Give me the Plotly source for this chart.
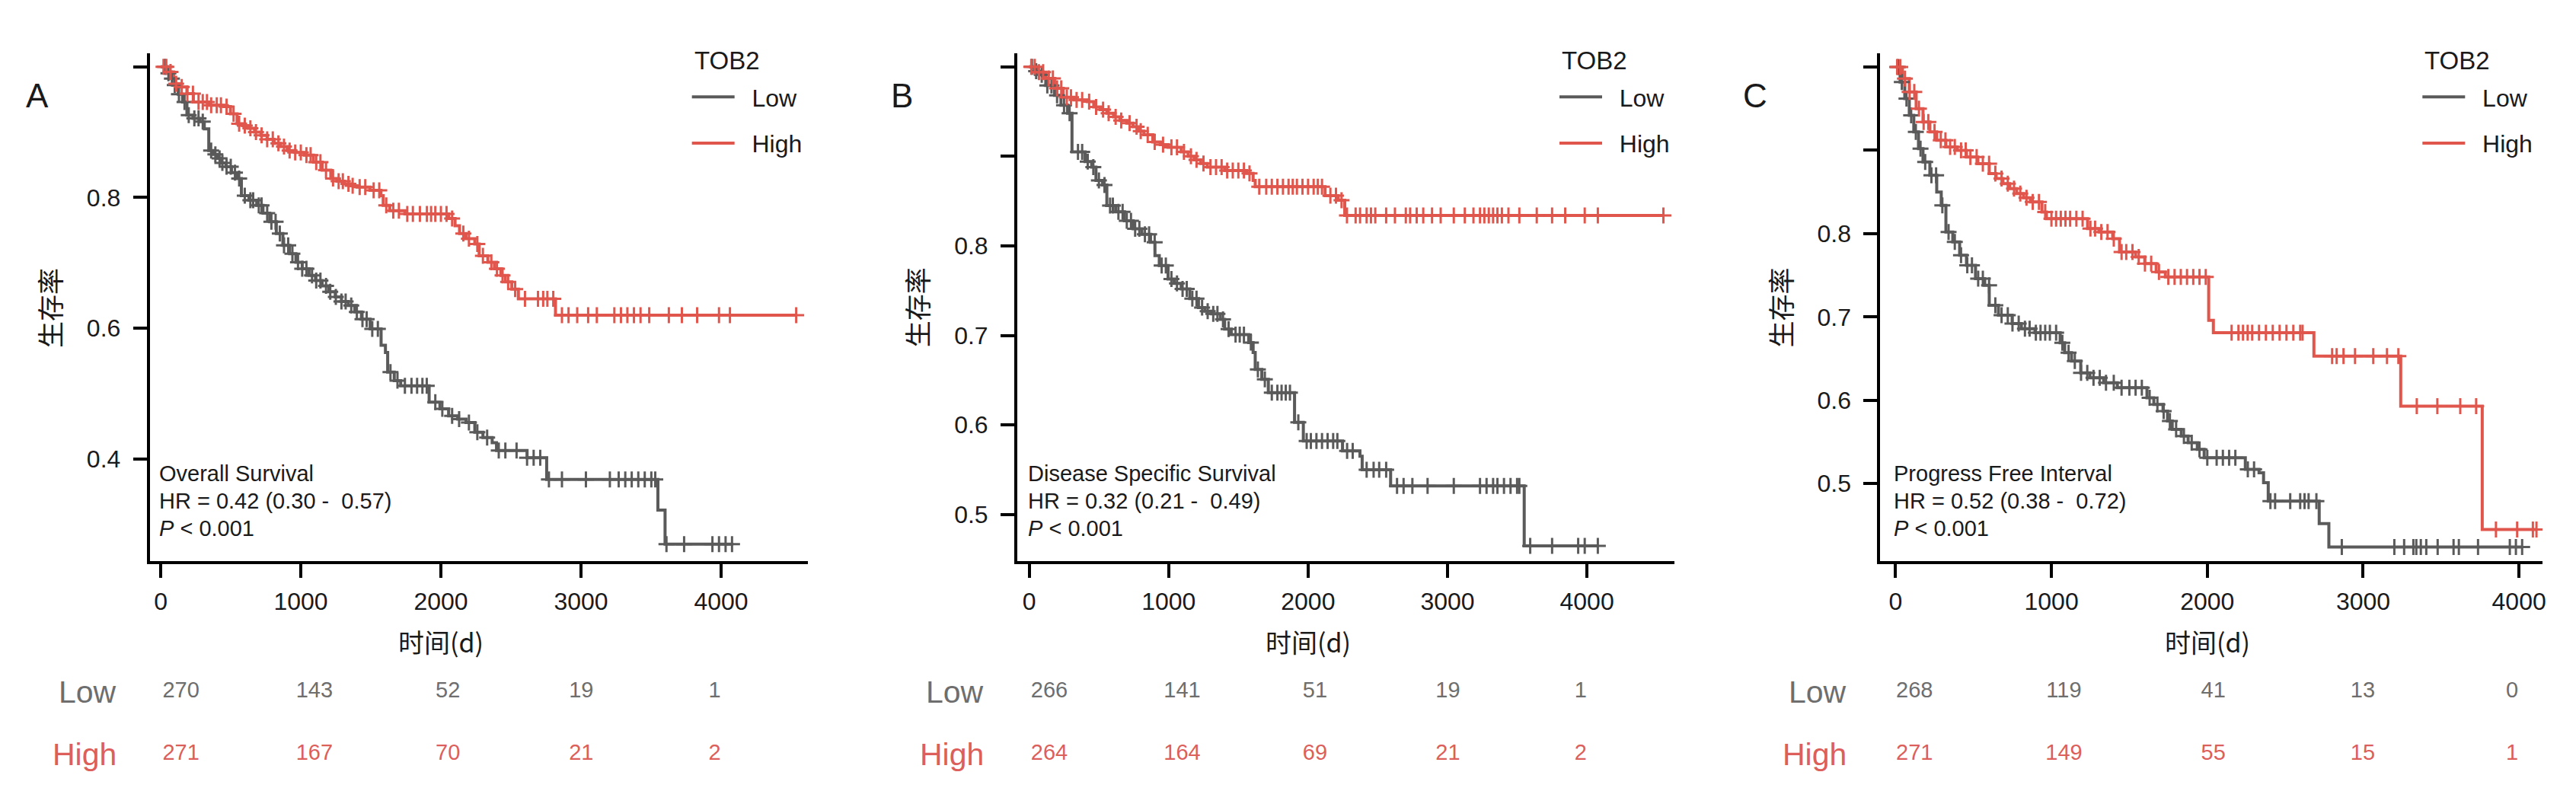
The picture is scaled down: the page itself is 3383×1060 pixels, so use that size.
import bisect
import plotly.graph_objects as go

W, H = 3383, 1060
FONT = "Liberation Sans, Arial, Noto Sans CJK SC, sans-serif"
CJK = "Noto Sans CJK SC, Liberation Sans, sans-serif"

line_colors = {"Low": "#5A5A5A", "High": "#E0564C"}
table_colors = {"Low": "#6E6E6E", "High": "#DC5F5B"}

time_ticks = [0, 1000, 2000, 3000, 4000]

# ---------------- A: Overall Survival ----------------
os_low_t = [0, 40, 70, 93, 125, 156, 187, 230, 280, 311, 343, 375, 405, 435, 467, 505, 545, 576, 630, 685,
            730, 778, 825, 872, 920, 965, 1010, 1059, 1105, 1152, 1200, 1246, 1290, 1339, 1385, 1433, 1495,
            1573, 1604, 1620, 1667, 1713, 1916, 1993, 2055, 2120, 2179, 2242, 2300, 2366, 2397, 2615, 2755,
            3549, 3600]
os_low_s = [1.0, 0.990, 0.982, 0.972, 0.958, 0.946, 0.926, 0.921, 0.916, 0.905, 0.872, 0.866, 0.860, 0.853,
            0.847, 0.838, 0.829, 0.803, 0.796, 0.788, 0.776, 0.763, 0.745, 0.727, 0.714, 0.701, 0.691, 0.681,
            0.673, 0.665, 0.656, 0.648, 0.641, 0.635, 0.625, 0.614, 0.599, 0.574, 0.563, 0.533, 0.520, 0.512,
            0.487, 0.477, 0.466, 0.461, 0.456, 0.441, 0.433, 0.425, 0.413, 0.402, 0.369, 0.322, 0.270]
os_low_cens = [30, 55, 80, 100, 130, 170, 200, 240, 270, 300, 360, 390, 420, 440, 470, 500, 530, 560, 600, 640,
               660, 700, 720, 760, 790, 820, 850, 880, 910, 940, 980, 1010, 1040, 1080, 1110, 1140, 1180, 1210,
               1250, 1290, 1320, 1360, 1400, 1440, 1470, 1510, 1550, 1640, 1690, 1743, 1790, 1830, 1868, 1899,
               1960, 2010, 2080, 2130, 2200, 2260, 2330, 2413, 2460, 2540, 2615, 2662, 2709, 2771, 2864, 3035,
               3206, 3269, 3316, 3362, 3409, 3455, 3502, 3530, 3610, 3736, 3938, 3985, 4032, 4078]

os_high_t = [0, 47, 93, 140, 187, 233, 343, 451, 498, 545, 585, 623, 670, 716, 760, 809, 855, 903, 960, 1027,
             1090, 1152, 1214, 1260, 1308, 1355, 1401, 1494, 1572, 1588, 1635, 1743, 2055, 2101, 2133, 2179,
             2242, 2273, 2335, 2382, 2428, 2460, 2506, 2553, 2818]
os_high_s = [1.0, 0.992, 0.974, 0.969, 0.959, 0.946, 0.941, 0.939, 0.928, 0.913, 0.910, 0.906, 0.900, 0.895,
             0.889, 0.883, 0.878, 0.872, 0.869, 0.865, 0.854, 0.842, 0.829, 0.825, 0.821, 0.818, 0.816, 0.811,
             0.803, 0.788, 0.780, 0.775, 0.768, 0.757, 0.745, 0.737, 0.729, 0.711, 0.701, 0.691, 0.681, 0.671,
             0.660, 0.645, 0.620]
os_high_cens = [20, 40, 70, 110, 150, 190, 230, 270, 300, 330, 360, 400, 430, 470, 520, 560, 600, 640, 680, 720,
                760, 800, 840, 880, 920, 960, 1000, 1040, 1070, 1110, 1140, 1180, 1230, 1270, 1300, 1340, 1370,
                1420, 1460, 1520, 1560, 1610, 1660, 1700, 1760, 1800, 1850, 1900, 1930, 1960, 2000, 2040, 2080,
                2160, 2200, 2260, 2300, 2360, 2400, 2440, 2480, 2530, 2600, 2693, 2730, 2760, 2802, 2864, 2911,
                2973, 3051, 3113, 3238, 3285, 3331, 3378, 3425, 3487, 3627, 3720, 3829, 3985, 4063, 4536]

# ---------------- B: Disease Specific Survival ----------------
dss_low_t = [0, 40, 72, 119, 182, 228, 275, 307, 401, 448, 479, 526, 557, 620, 683, 745, 808, 870, 902, 933,
             996, 1040, 1090, 1152, 1214, 1260, 1308, 1371, 1402, 1449, 1574, 1606, 1621, 1668, 1715, 1903,
             1966, 2247, 2372, 2388, 2592, 3550]
dss_low_s = [1.0, 0.995, 0.991, 0.979, 0.968, 0.957, 0.948, 0.905, 0.894, 0.888, 0.873, 0.868, 0.845, 0.838,
             0.828, 0.819, 0.813, 0.804, 0.789, 0.778, 0.763, 0.758, 0.752, 0.741, 0.731, 0.727, 0.724, 0.718,
             0.707, 0.701, 0.692, 0.681, 0.662, 0.651, 0.636, 0.603, 0.582, 0.571, 0.565, 0.550, 0.532, 0.465]
dss_low_cens = [20, 50, 90, 130, 160, 200, 250, 290, 350, 380, 420, 460, 500, 540, 580, 600, 640, 670, 700, 730,
                760, 790, 830, 860, 900, 950, 980, 1020, 1060, 1100, 1130, 1170, 1200, 1240, 1280, 1320, 1350,
                1390, 1430, 1480, 1510, 1540, 1590, 1640, 1690, 1740, 1780, 1810, 1840, 1870, 1930, 1990, 2020,
                2060, 2100, 2140, 2180, 2210, 2280, 2320, 2420, 2470, 2510, 2560, 2638, 2685, 2748, 2857, 3045,
                3233, 3280, 3327, 3358, 3405, 3452, 3499, 3515, 3593, 3750, 3937, 3984, 4078]

dss_high_t = [0, 56, 119, 182, 244, 322, 416, 463, 510, 557, 605, 651, 700, 745, 785, 823, 886, 940, 996, 1090,
              1140, 1183, 1230, 1277, 1402, 1559, 1606, 1621, 2122, 2216, 2263]
dss_high_s = [1.0, 0.994, 0.987, 0.976, 0.966, 0.963, 0.961, 0.955, 0.952, 0.948, 0.944, 0.940, 0.937, 0.933,
              0.928, 0.924, 0.916, 0.913, 0.910, 0.905, 0.900, 0.896, 0.892, 0.888, 0.884, 0.881, 0.873, 0.866,
              0.856, 0.851, 0.834]
dss_high_cens = [15, 40, 70, 100, 140, 170, 200, 230, 270, 300, 340, 380, 430, 480, 530, 570, 620, 660, 720, 770,
                 800, 850, 900, 960, 1020, 1060, 1110, 1160, 1200, 1250, 1300, 1340, 1380, 1420, 1460, 1500, 1540,
                 1580, 1650, 1700, 1740, 1780, 1820, 1860, 1890, 1920, 1960, 2000, 2040, 2070, 2100, 2160, 2200,
                 2240, 2279, 2341, 2373, 2420, 2451, 2482, 2560, 2623, 2701, 2732, 2779, 2826, 2889, 2951, 3045,
                 3124, 3186, 3233, 3264, 3296, 3327, 3358, 3390, 3437, 3515, 3640, 3750, 3844, 3984, 4078, 4548]

# ---------------- C: Progress Free Interval ----------------
pfi_low_t = [0, 29, 59, 88, 117, 147, 176, 220, 264, 293, 323, 367, 411, 455, 513, 572, 601, 660, 748, 807, 895,
             1056, 1085, 1129, 1188, 1247, 1335, 1423, 1613, 1657, 1716, 1745, 1775, 1833, 1877, 1936, 1980,
             2244, 2332, 2361, 2391, 2718, 2780]
pfi_low_s = [1.0, 0.982, 0.962, 0.942, 0.922, 0.902, 0.886, 0.870, 0.850, 0.834, 0.802, 0.790, 0.774, 0.762,
             0.746, 0.738, 0.714, 0.702, 0.692, 0.686, 0.681, 0.669, 0.657, 0.647, 0.633, 0.627, 0.621, 0.615,
             0.603, 0.595, 0.587, 0.575, 0.565, 0.557, 0.549, 0.541, 0.531, 0.517, 0.513, 0.501, 0.479, 0.452,
             0.424]
pfi_low_cens = [15, 40, 70, 100, 130, 160, 190, 230, 260, 300, 340, 380, 420, 460, 490, 530, 560, 600, 640, 680,
                720, 750, 790, 830, 860, 900, 930, 960, 990, 1030, 1070, 1110, 1150, 1190, 1230, 1270, 1310, 1350,
                1400, 1450, 1500, 1540, 1580, 1630, 1680, 1720, 1760, 1800, 1850, 1900, 1950, 2000, 2060, 2100,
                2140, 2180, 2260, 2300, 2405, 2435, 2532, 2596, 2624, 2650, 2700, 2863, 3200, 3263, 3322, 3341,
                3370, 3405, 3478, 3580, 3614, 3737, 3941, 3980, 4020]

pfi_high_t = [0, 44, 88, 132, 176, 220, 264, 323, 396, 455, 528, 601, 645, 689, 733, 777, 821, 865, 939, 968,
              1232, 1305, 1393, 1437, 1540, 1599, 1672, 1731, 2009, 2039, 2684, 3241, 3764]
pfi_high_s = [1.0, 0.986, 0.970, 0.950, 0.934, 0.922, 0.912, 0.904, 0.900, 0.892, 0.884, 0.872, 0.866, 0.860,
              0.854, 0.848, 0.843, 0.838, 0.826, 0.818, 0.806, 0.802, 0.794, 0.778, 0.772, 0.764, 0.754, 0.748,
              0.696, 0.681, 0.653, 0.593, 0.445]
pfi_high_cens = [10, 30, 60, 90, 120, 150, 180, 210, 250, 290, 320, 350, 380, 420, 450, 480, 520, 560, 600, 640,
                 680, 720, 760, 800, 840, 880, 920, 960, 1000, 1030, 1060, 1090, 1120, 1160, 1200, 1250, 1280,
                 1320, 1360, 1400, 1450, 1480, 1520, 1560, 1600, 1640, 1690, 1750, 1790, 1830, 1870, 1910, 1950,
                 1990, 2156, 2200, 2229, 2259, 2288, 2332, 2376, 2420, 2464, 2508, 2552, 2596, 2611, 2801, 2830,
                 2874, 2948, 3065, 3153, 3226, 3344, 3476, 3623, 3725, 3852, 3988, 4089, 4112]

# ---------------- numbers at risk ----------------
risk_os = {"Low": [270, 143, 52, 19, 1], "High": [271, 167, 70, 21, 2]}
risk_dss = {"Low": [266, 141, 51, 19, 1], "High": [264, 164, 69, 21, 2]}
risk_pfi = {"Low": [268, 119, 41, 13, 0], "High": [271, 149, 55, 15, 1]}

panels = [
    dict(letter="A", name="Overall Survival", hr="HR = 0.42 (0.30 -  0.57)",
         curves={"Low": (os_low_t, os_low_s, os_low_cens), "High": (os_high_t, os_high_s, os_high_cens)},
         risk=risk_os, left=189, right=1055, xr=[-78, 4622], yr=[0.244, 1.0206],
         yticks=[1.0, 0.8, 0.6, 0.4], ylabels=["", "0.8", "0.6", "0.4"],
         letter_px=41, tab0=230, tab4=932),
    dict(letter="B", name="Disease Specific Survival", hr="HR = 0.32 (0.21 -  0.49)",
         curves={"Low": (dss_low_t, dss_low_s, dss_low_cens), "High": (dss_high_t, dss_high_s, dss_high_cens)},
         risk=risk_dss, left=1330, right=2194, xr=[-85, 4626], yr=[0.448, 1.015],
         yticks=[1.0, 0.9, 0.8, 0.7, 0.6, 0.5], ylabels=["", "", "0.8", "0.7", "0.6", "0.5"],
         letter_px=1178, tab0=1372, tab4=2071),
    dict(letter="C", name="Progress Free Interval", hr="HR = 0.52 (0.38 -  0.72)",
         curves={"Low": (pfi_low_t, pfi_low_s, pfi_low_cens), "High": (pfi_high_t, pfi_high_s, pfi_high_cens)},
         risk=risk_pfi, left=2465, right=3336, xr=[-98, 4151], yr=[0.407, 1.0164],
         yticks=[1.0, 0.9, 0.8, 0.7, 0.6, 0.5], ylabels=["", "", "0.8", "0.7", "0.6", "0.5"],
         letter_px=2300, tab0=2510, tab4=3296),
]

PLOT_TOP, PLOT_BOTTOM = 62, 729
INK = "#1a1a1a"
NBSP = "\u00a0"


def step_at(times, surv, t):
    return surv[bisect.bisect_right(times, t) - 1]


fig = go.Figure()
annotations = []
axis_style = dict(showline=True, linewidth=4, linecolor="black", ticks="outside", ticklen=18,
                  tickwidth=4, tickcolor="black", showgrid=False, zeroline=False,
                  tickfont=dict(family=FONT, size=32, color=INK), fixedrange=True)

for i, p in enumerate(panels):
    n = "" if i == 0 else str(i + 1)
    tn = str(i + 4)
    legend_name = "legend" + n
    dom_x = [p["left"] / W, p["right"] / W]

    for g in ["Low", "High"]:
        times, surv, cens = p["curves"][g]
        end_t = max(cens)
        fig.add_trace(go.Scatter(
            x=times + [end_t], y=surv + [surv[-1]], mode="lines",
            line=dict(color=line_colors[g], width=4, shape="hv"),
            name=NBSP * 2 + g, legend=legend_name, legendgroup=g + n, xaxis="x" + n, yaxis="y" + n,
            hoverinfo="skip"))
    for g in ["Low", "High"]:
        times, surv, cens = p["curves"][g]
        fig.add_trace(go.Scatter(
            x=cens, y=[step_at(times, surv, c) for c in cens], mode="markers",
            marker=dict(symbol="cross-thin", size=15, line=dict(color=line_colors[g], width=3)),
            showlegend=False, xaxis="x" + n, yaxis="y" + n, hoverinfo="skip"))

    # risk table
    for g, row in [("Low", 2), ("High", 1)]:
        fig.add_trace(go.Scatter(
            x=time_ticks, y=[row] * len(time_ticks), text=[str(v) for v in p["risk"][g]], mode="text",
            textfont=dict(family=FONT, size=29, color=table_colors[g]), showlegend=False,
            xaxis="x" + tn, yaxis="y" + tn, hoverinfo="skip"))

    k = (p["tab4"] - p["tab0"]) / 4000.0
    fig.update_layout(**{
        "xaxis" + n: dict(domain=dom_x, range=p["xr"], tickvals=time_ticks, anchor="y" + n,
                          ticklabelstandoff=4, **axis_style),
        "yaxis" + n: dict(domain=[1 - PLOT_BOTTOM / H, 1 - PLOT_TOP / H], range=p["yr"], tickvals=p["yticks"],
                          ticktext=p["ylabels"], anchor="x" + n, ticklabelstandoff=10, **axis_style),
        "xaxis" + tn: dict(domain=dom_x, range=[(p["left"] - p["tab0"]) / k, (p["right"] - p["tab0"]) / k],
                           anchor="y" + tn, visible=False, fixedrange=True),
        "yaxis" + tn: dict(domain=[0, 0.3], range=[0.06, 3.94], anchor="x" + tn, visible=False,
                           fixedrange=True),
        legend_name: dict(x=(p["left"] + 708) / W, y=1 - 92 / H, xanchor="left", yanchor="top",
                          font=dict(family=FONT, size=32, color=INK), bgcolor="rgba(0,0,0,0)",
                          itemwidth=56, tracegroupgap=16, traceorder="grouped"),
    })

    # legend title
    annotations.append(dict(text="TOB2", x=(p["left"] + 714) / W, y=1 - 72 / H, xref="paper", yref="paper",
                            xanchor="left", yanchor="middle", showarrow=False,
                            font=dict(family=FONT, size=33, color=INK)))
    # panel letter
    annotations.append(dict(text=p["letter"], x=p["letter_px"] / W, y=1 - 118 / H, xref="paper", yref="paper",
                            xanchor="center", yanchor="middle", showarrow=False,
                            font=dict(family=FONT, size=44, color=INK)))
    # stats text
    for txt, yy in [(p["name"], 0.173), (p["hr"], 0.118), ("<i>P</i> &lt; 0.001", 0.064)]:
        annotations.append(dict(text=txt, x=0, y=yy, xref="x" + n, yref="y" + n + " domain", xanchor="left",
                                yanchor="middle", xshift=-4, showarrow=False,
                                font=dict(family=FONT, size=29, color=INK)))
    # axis titles
    annotations.append(dict(text="时间(d)", x=2000, y=1 - 834 / H, xref="x" + n, yref="paper",
                            xanchor="center", yanchor="middle", showarrow=False,
                            font=dict(family=CJK, size=34, color=INK)))
    annotations.append(dict(text="生存率", x=(p["left"] - 132) / W, y=1 - 396 / H, xref="paper", yref="paper",
                            xanchor="center", yanchor="middle", textangle=-90, showarrow=False,
                            font=dict(family=CJK, size=35, color=INK)))
    # risk table row labels
    for g, row in [("Low", 2), ("High", 1)]:
        annotations.append(dict(text=g, x=(p["left"] - 42) / W, y=row, xref="paper", yref="y" + tn,
                                xanchor="right", yanchor="middle", showarrow=False,
                                font=dict(family=FONT, size=41, color=table_colors[g])))

fig.update_layout(width=W, height=H, margin=dict(l=0, r=0, t=0, b=0), plot_bgcolor="white",
                  paper_bgcolor="white", annotations=annotations, font=dict(family=FONT))

fig.write_html("out.html")
